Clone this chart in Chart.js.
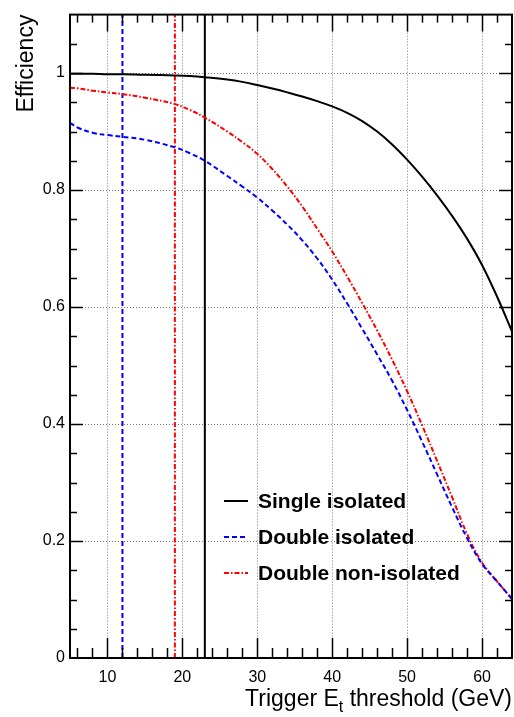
<!DOCTYPE html>
<html><head><meta charset="utf-8">
<script src="https://cdn.jsdelivr.net/npm/chart.js@4.4.1/dist/chart.umd.min.js"></script>
<style>html,body{margin:0;padding:0;background:#fff;}</style>
</head><body>
<canvas id="c" width="514" height="717" style="display:block;width:514px;height:717px"></canvas>
<script>
// ---- data ----
const thresholds = [5, 6, 8, 10, 12, 15, 19, 21, 23, 26, 28, 30, 32, 34, 36, 38, 40, 42, 44, 46, 48, 50, 52, 54, 56, 58, 60, 62, 64];
const singleIsolated = [0.999, 0.999, 0.999, 0.998, 0.998, 0.997, 0.996, 0.995, 0.993, 0.989, 0.985, 0.9795, 0.9735, 0.967, 0.960, 0.952, 0.943, 0.932, 0.918, 0.900, 0.878, 0.852, 0.823, 0.791, 0.756, 0.717, 0.672, 0.618, 0.558];
const doubleIsolated = [0.915, 0.907, 0.898, 0.894, 0.891, 0.886, 0.873, 0.863, 0.850, 0.824, 0.806, 0.787, 0.765, 0.741, 0.714, 0.683, 0.647, 0.606, 0.563, 0.519, 0.474, 0.424, 0.370, 0.314, 0.258, 0.205, 0.161, 0.131, 0.101];
const doubleNonIsolated = [0.975, 0.974, 0.970, 0.967, 0.964, 0.958, 0.947, 0.937, 0.924, 0.900, 0.882, 0.862, 0.836, 0.806, 0.772, 0.734, 0.695, 0.652, 0.607, 0.560, 0.510, 0.456, 0.398, 0.337, 0.275, 0.212, 0.163, 0.131, 0.101];
const seriesLabels = ['Single isolated', 'Double isolated', 'Double non-isolated'];
const cutThresholds = [23, 12, 19]; // chosen thresholds (vertical lines)
const xTickValues = [10, 20, 30, 40, 50, 60];
const yTickValues = [0, 0.2, 0.4, 0.6, 0.8, 1];
const xLimits = [5, 64];
const yLimits = [0, 1.1];
const xTitleParts = ['Trigger E', 't', ' threshold (GeV)'];
const yTitle = 'Efficiency';

const FONT = '"Liberation Sans", Arial, Helvetica, sans-serif';
const styles = [
  {color: '#000000', dash: [], width: 2},
  {color: '#0000ff', dash: [5, 3], width: 2},
  {color: '#ff0000', dash: [5, 2, 1.5, 2], width: 2}
];
const seriesValues = [singleIsolated, doubleIsolated, doubleNonIsolated];

const datasets = [];
seriesValues.forEach((vals, i) => {
  datasets.push({
    label: seriesLabels[i],
    data: thresholds.map((t, k) => ({x: t, y: vals[k]})),
    borderColor: styles[i].color, borderDash: styles[i].dash, borderWidth: styles[i].width,
    pointRadius: 0, fill: false, tension: 0.4, isCurve: true
  });
});
cutThresholds.forEach((c, i) => {
  datasets.push({
    label: seriesLabels[i] + ' cut',
    data: [{x: c, y: yLimits[0]}, {x: c, y: yLimits[1]}],
    borderColor: styles[i].color, borderDash: styles[i].dash, borderWidth: styles[i].width,
    pointRadius: 0, fill: false, tension: 0, isCurve: false
  });
});

function seg(ctx, x1, y1, x2, y2) { ctx.beginPath(); ctx.moveTo(x1, y1); ctx.lineTo(x2, y2); ctx.stroke(); }

const framePlugin = {
  id: 'frame',
  afterDatasetsDraw(chart) {
    const {ctx, chartArea: a, scales: {x, y}} = chart;
    ctx.save();
    ctx.strokeStyle = '#000'; ctx.lineWidth = 1.5; ctx.setLineDash([]);
    for (let v = 6; v < xLimits[1]; v += 2) {
      const px = Math.round(x.getPixelForValue(v)) + 0.5;
      const major = v % 10 === 0;
      seg(ctx, px, a.bottom, px, a.bottom - (major ? 20 : 10));
      seg(ctx, px, a.top, px, a.top + (major ? 17 : 8));
    }
    for (let k = 1; k * 0.05 < yLimits[1] - 1e-9; k++) {
      const py = Math.round(y.getPixelForValue(k * 0.05)) + 0.5;
      const major = k % 4 === 0;
      const len = major ? 13 : 7;
      seg(ctx, a.left, py, a.left + len, py);
      seg(ctx, a.right, py, a.right - len, py);
    }
    ctx.lineWidth = 2;
    ctx.strokeRect(a.left, a.top, a.right - a.left, a.bottom - a.top);
    ctx.restore();
  }
};

const textPlugin = {
  id: 'texts',
  afterDraw(chart) {
    const {ctx, chartArea: a} = chart;
    ctx.save();
    ctx.fillStyle = '#000';
    // y title
    ctx.font = '23px ' + FONT;
    ctx.save();
    ctx.translate(33, a.top);
    ctx.rotate(-Math.PI / 2);
    ctx.textAlign = 'right'; ctx.textBaseline = 'alphabetic';
    ctx.fillText(yTitle, 0, 0);
    ctx.restore();
    // x title with subscript, right aligned
    const base = 706;
    ctx.textBaseline = 'alphabetic'; ctx.textAlign = 'left';
    const big = '23px ' + FONT, small = '16px ' + FONT;
    ctx.font = big; const w1 = ctx.measureText(xTitleParts[0]).width, w3 = ctx.measureText(xTitleParts[2]).width;
    ctx.font = small; const w2 = ctx.measureText(xTitleParts[1]).width;
    let xs = a.right - (w1 + w2 + w3);
    ctx.font = big; ctx.fillText(xTitleParts[0], xs, base); xs += w1;
    ctx.font = small; ctx.fillText(xTitleParts[1], xs, base + 6); xs += w2;
    ctx.font = big; ctx.fillText(xTitleParts[2], xs, base);
    // legend
    const rows = [501, 537, 573];
    ctx.font = 'bold 21px ' + FONT;
    ctx.textBaseline = 'middle';
    chart.data.datasets.filter(d => d.isCurve).forEach((d, i) => {
      ctx.strokeStyle = d.borderColor; ctx.lineWidth = d.borderWidth; ctx.setLineDash(d.borderDash);
      seg(ctx, 224, rows[i], 248, rows[i]);
      ctx.setLineDash([]);
      ctx.fillStyle = '#000';
      ctx.fillText(d.label, 258, rows[i] + 1);
    });
    ctx.restore();
  }
};

new Chart(document.getElementById('c'), {
  type: 'line',
  data: {datasets},
  options: {
    responsive: false, animation: false, devicePixelRatio: 1,
    layout: {padding: {top: 8, right: 2, left: 0, bottom: 0}},
    plugins: {legend: {display: false}, tooltip: {enabled: false}},
    scales: {
      x: {
        type: 'linear', min: xLimits[0], max: xLimits[1],
        afterBuildTicks: s => { s.ticks = xTickValues.map(v => ({value: v})); },
        afterFit: s => { s.height = 59; },
        grid: {color: '#7a7a7a', lineWidth: 1, drawTicks: false},
        border: {display: false, dash: [1, 2]},
        ticks: {color: '#000', font: {family: FONT, size: 16}, padding: 10, maxRotation: 0,
          callback: v => String(v)}
      },
      y: {
        type: 'linear', min: yLimits[0], max: yLimits[1],
        afterBuildTicks: s => { s.ticks = yTickValues.map(v => ({value: v})); },
        afterFit: s => { s.width = 70; },
        grid: {color: '#7a7a7a', lineWidth: 1, drawTicks: false},
        border: {display: false, dash: [1, 2]},
        ticks: {color: '#000', font: {family: FONT, size: 16}, padding: 5,
          callback: v => String(Math.round(v * 10) / 10)}
      }
    }
  },
  plugins: [framePlugin, textPlugin]
});
</script>
</body></html>
